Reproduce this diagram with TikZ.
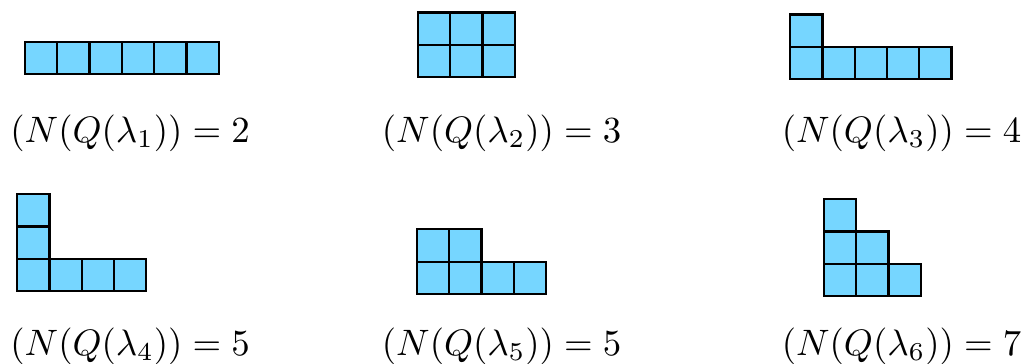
\documentclass[tikz,border=0pt]{standalone}
\usepackage{xcolor}
\usepackage{tikz}
\usetikzlibrary{calc,positioning}

\definecolor{cellblue}{RGB}{118,214,255}

\begin{document}
\begin{tikzpicture}[x=0.5cm, y=0.5cm,
    cell/.style={draw=black, fill=cellblue, line width=1pt},
    lbl/.style={anchor=base west, inner sep=0pt, scale=1.62}]

    \useasboundingbox (0,0) rectangle (31.67,11.24);

    % lambda_1 = (6)
    \begin{scope}[shift={(0.77,8.95)}]
      \foreach \x in {0,...,5} {
          \draw[cell] (\x,0) rectangle ++(1,1);
      }
    \end{scope}

    % lambda_2 = (3,3)
    \begin{scope}[shift={(12.94,8.85)}]
      \foreach \x in {0,...,2} {
          \foreach \y in {0,1} {
              \draw[cell] (\x,\y) rectangle ++(1,1);
          }
      }
    \end{scope}

    % lambda_3 = (5,1)
    \begin{scope}[shift={(24.46,8.79)}]
      \foreach \x in {0,...,4} {
          \draw[cell] (\x,0) rectangle ++(1,1);
      }
      \draw[cell] (0,1) rectangle ++(1,1);
    \end{scope}

    % lambda_4 = (4,1,1)
    \begin{scope}[shift={(0.53,2.23)}]
      \foreach \x in {0,...,3} {
          \draw[cell] (\x,0) rectangle ++(1,1);
      }
      \draw[cell] (0,1) rectangle ++(1,1);
      \draw[cell] (0,2) rectangle ++(1,1);
    \end{scope}

    % lambda_5 = (4,2)
    \begin{scope}[shift={(12.91,2.14)}]
      \foreach \x in {0,...,3} {
          \draw[cell] (\x,0) rectangle ++(1,1);
      }
      \draw[cell] (0,1) rectangle ++(1,1);
      \draw[cell] (1,1) rectangle ++(1,1);
    \end{scope}

    % lambda_6 = (3,2,1)
    \begin{scope}[shift={(25.51,2.07)}]
      \foreach \x/\h in {0/3,1/2,2/1} {
          \foreach \y in {1,...,\h} {
              \draw[cell] (\x,\y-1) rectangle ++(1,1);
          }
      }
    \end{scope}

    % Labels
    \node[lbl] (n1) at (0.30,6.84) {$(N(Q(\lambda_1)) = 2$};
    \node[lbl] (n2) at (11.80,6.84) {$(N(Q(\lambda_2)) = 3$};
    \node[lbl] (n3) at (24.18,6.84) {$(N(Q(\lambda_3)) = 4$};
    \node[lbl] (n4) at (0.30,0.25) {$(N(Q(\lambda_4)) = 5$};
    \node[lbl] (n5) at (11.80,0.25) {$(N(Q(\lambda_5)) = 5$};
    \node[lbl] (n6) at (24.18,0.25) {$(N(Q(\lambda_6)) = 7$};

\end{tikzpicture}
\end{document}
